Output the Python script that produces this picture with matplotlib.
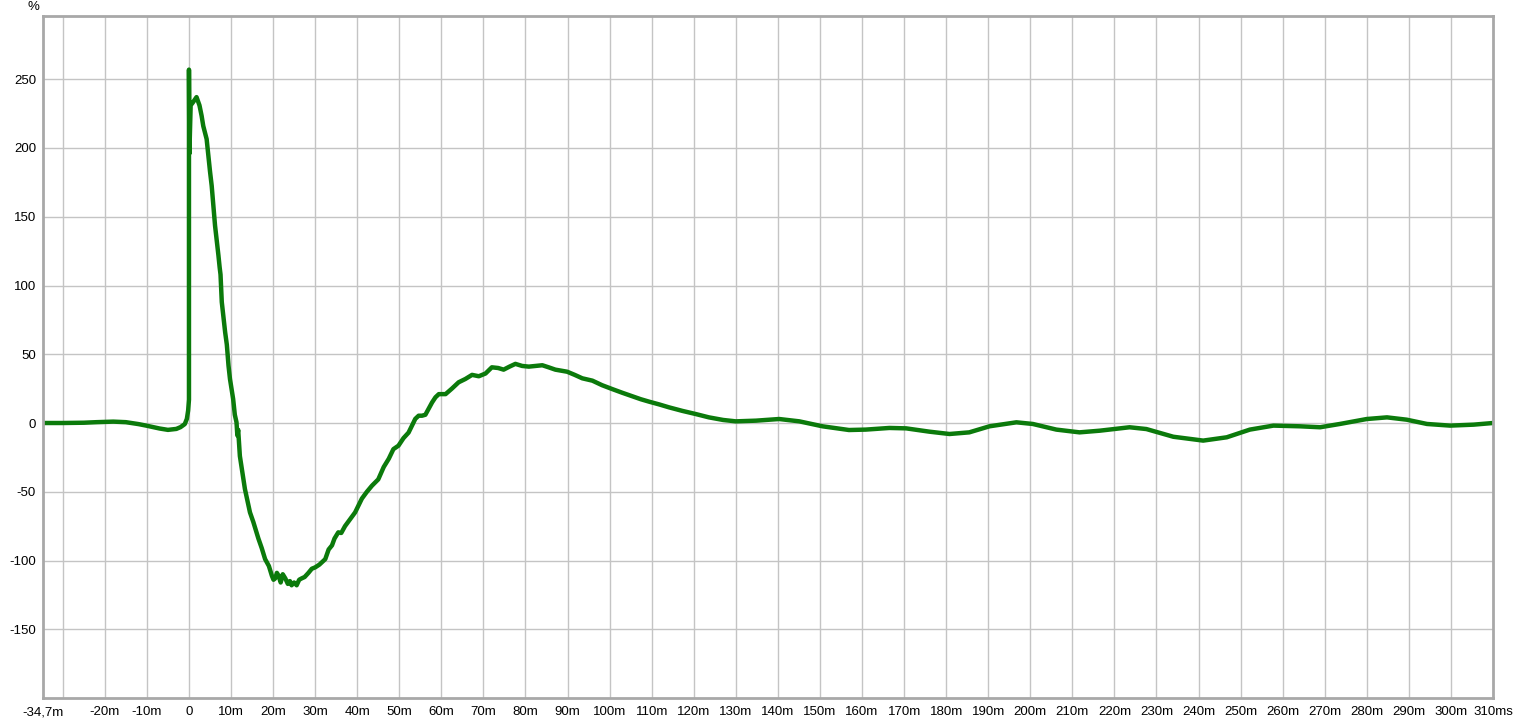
import numpy as np
import matplotlib
matplotlib.use("Agg")
import matplotlib.pyplot as plt

# step response, time in ms, level in %
t_ms = [-34.7, -30, -25, -22, -18, -15, -12, -10, -7, -5, -3, -2, -1, -0.5, -0.2, 0.0,
        0.0, 0.1, 0.4, 0.9, 1.8, 2.5, 3.0, 3.4, 4.2, 5.0, 5.4, 6.2, 7.0, 7.3, 7.5, 7.8,
        8.6, 9.0, 9.4, 9.75, 10.5, 10.9, 11.3, 11.5, 11.7, 12.1, 12.7, 13.3, 14.5, 15.3,
        16.5, 17.3, 18.1, 19.0, 19.7, 20.1, 20.5, 20.9, 21.3, 21.8, 22.3, 22.9, 23.5,
        24.0, 24.4, 25.0, 25.6, 26.2, 26.8, 27.5, 28.4, 29.2, 30.0, 31.0, 32.4, 33.2,
        34.0, 34.6, 35.5, 36.2, 37.1, 38.3, 39.5, 41.1, 42.3, 43.5, 45.0, 46.3, 47.5,
        48.6, 49.8, 51.0, 52.2, 53.0, 53.8, 54.6, 55.4, 56.2, 57.8, 58.6, 59.4, 61.0,
        62.5, 64.1, 65.7, 67.3, 68.9, 70.5, 72.0, 73.5, 74.8, 76.2, 77.6, 79.2, 80.8,
        82.4, 84.0, 85.5, 87.1, 89.9, 91.7, 93.5, 95.9, 98.2, 100.6, 103.0, 105.4,
        107.4, 109.4, 111.8, 114.1, 117.3, 120.5, 123.6, 127.0, 130.0, 134.8, 140.3,
        145.1, 150.6, 156.9, 160.9, 166.5, 170.5, 176.0, 180.8, 185.5, 190.3, 196.7,
        200.6, 206.2, 211.7, 216.5, 223.6, 227.6, 234.0, 241.1, 246.7, 252.2, 257.8,
        264.1, 268.9, 273.6, 280.0, 284.8, 289.5, 294.3, 299.8, 305.4, 310.0]
level = [0.0, 0.0, 0.2, 0.6, 1.0, 0.6, -0.8, -2.0, -4.0, -5.0, -4.3, -3.0, -0.8, 3.0, 9.0, 17.0,
         257.0, 196.0, 231.0, 233.0, 237.0, 231.0, 223.5, 216.0, 206.5, 183.0, 172.6, 143.5, 122.0, 113.0, 108.0, 88.0,
         66.0, 57.0, 41.7, 32.0, 17.5, 6.0, 0.5, -9.0, -5.0, -24.0, -36.0, -48.0, -65.0, -72.0,
         -84.0, -91.0, -99.0, -104.0, -111.0, -114.0, -113.0, -109.0, -111.0, -116.0, -110.0, -113.0, -117.0,
         -115.0, -118.0, -116.0, -118.0, -114.0, -113.0, -112.0, -109.0, -106.0, -105.0, -103.0, -99.0, -92.0,
         -89.0, -84.0, -79.5, -80.0, -75.0, -70.0, -65.0, -55.0, -50.0, -45.6, -41.0, -32.0, -26.0,
         -19.0, -16.5, -11.0, -7.0, -2.0, 3.0, 5.3, 5.3, 6.0, 15.0, 18.7, 21.0, 21.0,
         25.0, 29.6, 32.0, 35.0, 34.0, 36.0, 40.5, 40.0, 38.8, 41.0, 43.0, 41.5, 41.0,
         41.5, 42.0, 40.5, 38.8, 37.3, 35.0, 32.5, 30.8, 27.5, 24.7, 22.0, 19.4,
         17.3, 15.5, 13.5, 11.4, 8.8, 6.5, 4.1, 2.2, 1.2, 1.7, 2.9,
         1.2, -2.4, -5.1, -4.8, -3.6, -3.9, -6.3, -8.0, -6.8, -2.4, 0.5,
         -0.7, -4.8, -6.8, -5.6, -3.1, -4.4, -10.0, -12.8, -10.4, -4.8, -1.9,
         -2.4, -3.1, -0.7, 2.9, 4.1, 2.4, -0.7, -1.9, -1.2, 0.0]

x_ticks = [-34.7, -20, -10, 0, 10, 20, 30, 40, 50, 60, 70, 80, 90, 100, 110, 120, 130, 140,
           150, 160, 170, 180, 190, 200, 210, 220, 230, 240, 250, 260, 270, 280, 290, 300, 310]
x_labels = ["-34,7m"] + [("0" if v == 0 else "%dm" % v) for v in x_ticks[1:-1]] + ["310ms"]
y_ticks = [-150, -100, -50, 0, 50, 100, 150, 200, 250]

plt.rcParams['font.family'] = ['Liberation Sans', 'DejaVu Sans']
plt.rcParams['axes.unicode_minus'] = False

fig = plt.figure(figsize=(15.16, 7.22), dpi=100)
ax = fig.add_axes([43 / 1516, 24 / 722, 1450 / 1516, 682 / 722])

ax.plot(t_ms, level, color='#0b7a0b', lw=3.2, solid_joinstyle='round', solid_capstyle='round')

ax.set_xlim(-34.7, 310)
ax.set_ylim(-200, 296)

# grid every 10 ms and 50 %
for gx in range(-30, 310, 10):
    ax.axvline(gx, color='#c4c4c4', lw=1, zorder=0)
for gy in range(-150, 300, 50):
    ax.axhline(gy, color='#c4c4c4', lw=1, zorder=0)

ax.set_xticks(x_ticks)
ax.set_xticklabels(x_labels)
ax.set_yticks(y_ticks)
ax.tick_params(length=0, labelsize=9.5, colors='#000000', pad=6)
ax.tick_params(axis='y', pad=5)

for s in ax.spines.values():
    s.set_color('#a8a8a8')
    s.set_linewidth(2)

fig.text(33 / 1516, 1 - 7 / 722, '%', fontsize=9.5, ha='center', va='center')

fig.savefig('out.png', dpi=100)
